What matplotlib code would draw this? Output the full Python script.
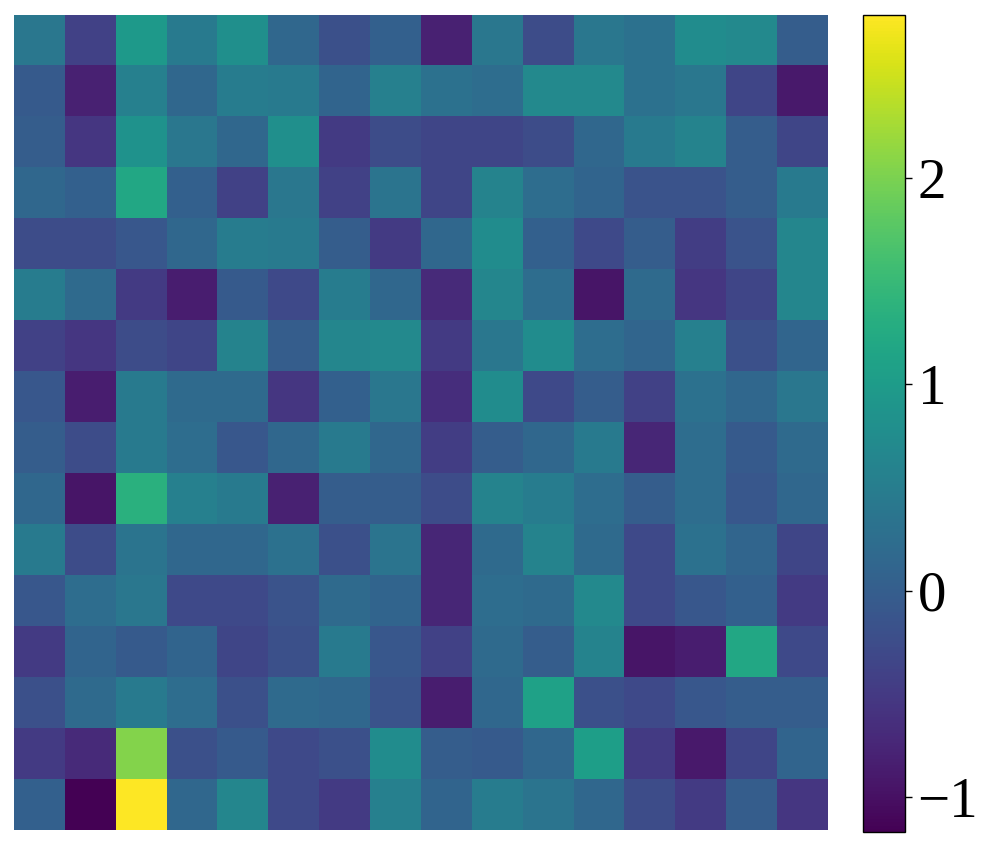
import numpy as np
import matplotlib
matplotlib.use("Agg")
import matplotlib.pyplot as plt

plt.rcParams['font.family'] = ['Liberation Serif', 'DejaVu Serif']

# grid values, read row by row from the top of the picture
row_00 = [0.40, -0.40, 0.95, 0.45, 0.80, 0.15, -0.20, 0.05, -0.80, 0.40, -0.25, 0.40, 0.30, 0.75, 0.70, 0.00]
row_01 = [-0.05, -0.80, 0.55, 0.15, 0.50, 0.45, 0.10, 0.55, 0.30, 0.25, 0.70, 0.70, 0.30, 0.40, -0.35, -0.90]
row_02 = [0.00, -0.55, 0.85, 0.40, 0.15, 0.80, -0.50, -0.25, -0.35, -0.35, -0.25, 0.15, 0.45, 0.60, 0.00, -0.35]
row_03 = [0.15, 0.05, 1.20, 0.05, -0.40, 0.40, -0.40, 0.35, -0.35, 0.60, 0.25, 0.10, -0.15, -0.15, 0.00, 0.45]
row_04 = [-0.25, -0.25, -0.10, 0.15, 0.50, 0.45, 0.00, -0.50, 0.15, 0.75, 0.05, -0.30, 0.00, -0.45, -0.15, 0.65]
row_05 = [0.50, 0.20, -0.50, -0.85, -0.05, -0.30, 0.50, 0.15, -0.70, 0.65, 0.25, -0.95, 0.20, -0.55, -0.35, 0.65]
row_06 = [-0.40, -0.55, -0.25, -0.35, 0.60, 0.00, 0.65, 0.70, -0.50, 0.40, 0.75, 0.25, 0.12, 0.55, -0.20, 0.12]
row_07 = [-0.10, -0.85, 0.45, 0.20, 0.20, -0.55, 0.05, 0.40, -0.65, 0.75, -0.30, 0.00, -0.40, 0.30, 0.15, 0.40]
row_08 = [0.00, -0.25, 0.45, 0.25, -0.10, 0.15, 0.45, 0.15, -0.45, 0.00, 0.15, 0.45, -0.75, 0.25, -0.05, 0.20]
row_09 = [0.15, -0.95, 1.35, 0.55, 0.45, -0.80, 0.00, 0.00, -0.25, 0.60, 0.50, 0.25, 0.00, 0.25, -0.10, 0.15]
row_10 = [0.45, -0.25, 0.35, 0.15, 0.15, 0.30, -0.20, 0.35, -0.75, 0.20, 0.60, 0.20, -0.30, 0.30, 0.12, -0.35]
row_11 = [-0.10, 0.25, 0.40, -0.30, -0.30, -0.15, 0.20, 0.10, -0.75, 0.25, 0.20, 0.70, -0.30, -0.10, 0.05, -0.50]
row_12 = [-0.50, 0.10, -0.05, 0.10, -0.35, -0.20, 0.45, -0.10, -0.40, 0.20, 0.00, 0.60, -0.95, -0.85, 1.20, -0.30]
row_13 = [-0.20, 0.20, 0.45, 0.25, -0.20, 0.20, 0.15, -0.15, -0.85, 0.15, 1.10, -0.20, -0.30, -0.10, 0.00, 0.00]
row_14 = [-0.50, -0.70, 2.05, -0.20, -0.05, -0.30, -0.20, 0.75, 0.00, -0.05, 0.15, 1.05, -0.50, -0.90, -0.35, 0.10]
row_15 = [0.05, -1.17, 2.79, 0.15, 0.65, -0.30, -0.50, 0.55, 0.10, 0.50, 0.35, 0.15, -0.25, -0.50, 0.00, -0.55]

cbar_ticks = [-1, 0, 1, 2]

grid = np.array([row_00, row_01, row_02, row_03, row_04, row_05, row_06, row_07,
                 row_08, row_09, row_10, row_11, row_12, row_13, row_14, row_15])

W, H = 997, 847
fig = plt.figure(figsize=(W / 100, H / 100), dpi=100)
ax = fig.add_axes([14 / W, (H - 830) / H, 814 / W, 815 / H])
im = ax.imshow(grid, cmap="viridis", aspect="auto", interpolation="nearest")
ax.axis("off")

cax = fig.add_axes([863 / W, (H - 832) / H, 42 / W, 817 / H])
cb = fig.colorbar(im, cax=cax, ticks=cbar_ticks)
cb.outline.set_linewidth(1.0)
cax.tick_params(labelsize=41, length=5, width=1, pad=4)

fig.savefig("out.png", dpi=100)
